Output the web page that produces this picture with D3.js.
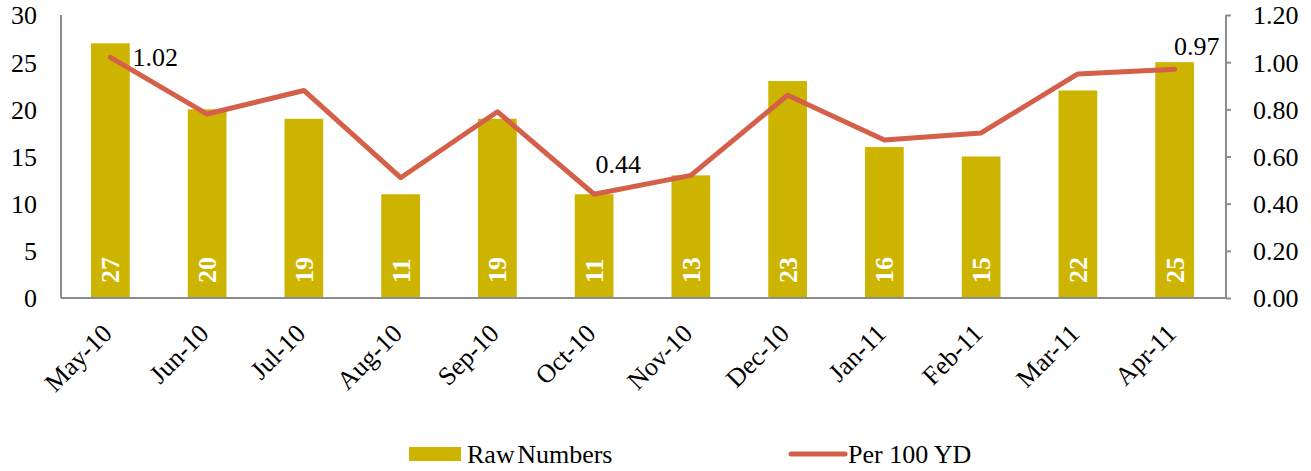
<!DOCTYPE html>
<html>
<head>
<meta charset="utf-8">
<script src="https://cdn.jsdelivr.net/npm/d3@7"></script>
<style>
  body { margin: 0; background: #fff; }
  text { font-family: "Liberation Serif", "Times New Roman", serif; }
</style>
</head>
<body>
<div class="container"></div>
<script>
const WIDTH = 1311;
const HEIGHT = 471;
const PLOT_LEFT = 61;
const PLOT_RIGHT = 1226;
const PLOT_TOP = 15;
const PLOT_BOTTOM = 298;
const FONT = 26;

const BAR_COLOR = "#CCB400";
const LINE_COLOR = "#D4604A";
const AXIS_COLOR = "#8c8c8c";

var months = ["May-10","Jun-10","Jul-10","Aug-10","Sep-10","Oct-10","Nov-10","Dec-10","Jan-11","Feb-11","Mar-11","Apr-11"];
var rawNumbers = [27, 20, 19, 11, 19, 11, 13, 23, 16, 15, 22, 25];
var per100YD = [1.02, 0.78, 0.88, 0.51, 0.79, 0.44, 0.52, 0.86, 0.67, 0.70, 0.95, 0.97];
var leftTicks = [0, 5, 10, 15, 20, 25, 30];
var rightTicks = [0, 0.2, 0.4, 0.6, 0.8, 1.0, 1.2];
var labelledPoints = [0, 5, 11];

var translate = function(x, y){
	return "translate(" + x + "," + y + ")";
};

var svg = d3.select('.container').append('svg')
	.attr('width', WIDTH)
	.attr('height', HEIGHT);

var xScale = d3.scaleBand()
	.domain(months)
	.range([62, 1223])
	.paddingInner(0.6)
	.paddingOuter(0.3);

var yLeft = d3.scaleLinear().domain([0, 30]).range([PLOT_BOTTOM, PLOT_TOP]);
var yRight = d3.scaleLinear().domain([0, 1.2]).range([PLOT_BOTTOM, PLOT_TOP]);

var centre = function(m){ return xScale(m) + xScale.bandwidth() / 2; };

// bars
svg.append('g').selectAll('rect')
	.data(rawNumbers)
	.enter().append('rect')
	.attr('x', function(d, i){ return xScale(months[i]); })
	.attr('y', function(d){ return yLeft(d); })
	.attr('width', xScale.bandwidth())
	.attr('height', function(d){ return yLeft(0) - yLeft(d); })
	.attr('fill', BAR_COLOR);

// bar value labels (rotated, white bold)
svg.append('g').selectAll('text')
	.data(rawNumbers)
	.enter().append('text')
	.attr('transform', function(d, i){ return translate(centre(months[i]) + 9, 283) + " rotate(-90)"; })
	.attr('text-anchor', 'start')
	.attr('fill', '#fff')
	.attr('font-weight', 'bold')
	.attr('font-size', FONT)
	.text(function(d){ return d; });

// left axis
var leftAxis = d3.axisLeft(yLeft).tickValues(leftTicks).tickSize(0).tickPadding(24);
var gl = svg.append('g').attr('transform', translate(PLOT_LEFT, 0)).call(leftAxis);
gl.select('.domain').remove();
gl.selectAll('text').attr('font-size', FONT).attr('fill', '#000').attr('dy', '0.34em');

// right axis
var rightAxis = d3.axisRight(yRight).tickValues(rightTicks).tickSize(5).tickPadding(22)
	.tickFormat(d3.format('.2f'));
var gr = svg.append('g').attr('transform', translate(PLOT_RIGHT, 0)).call(rightAxis);
gr.select('.domain').remove();
gr.selectAll('line').attr('stroke', AXIS_COLOR).attr('stroke-width', 2);
gr.selectAll('text').attr('font-size', FONT).attr('fill', '#000').attr('dy', '0.34em');

// axis lines
svg.append('line')
	.attr('x1', PLOT_LEFT).attr('x2', PLOT_LEFT)
	.attr('y1', PLOT_TOP).attr('y2', PLOT_BOTTOM)
	.attr('stroke', AXIS_COLOR).attr('stroke-width', 2);
svg.append('line')
	.attr('x1', PLOT_RIGHT).attr('x2', PLOT_RIGHT)
	.attr('y1', PLOT_TOP).attr('y2', PLOT_BOTTOM)
	.attr('stroke', AXIS_COLOR).attr('stroke-width', 2);
svg.append('line')
	.attr('x1', PLOT_LEFT).attr('x2', PLOT_RIGHT)
	.attr('y1', PLOT_BOTTOM).attr('y2', PLOT_BOTTOM)
	.attr('stroke', AXIS_COLOR).attr('stroke-width', 2);

// category labels
svg.append('g').selectAll('text')
	.data(months)
	.enter().append('text')
	.attr('transform', function(d){ return translate(centre(d) + 3, 335) + " rotate(-45)"; })
	.attr('text-anchor', 'end')
	.attr('font-size', FONT)
	.attr('fill', '#000')
	.text(function(d){ return d; });

// line
var line = d3.line()
	.x(function(d, i){ return centre(months[i]); })
	.y(function(d){ return yRight(d); });

svg.append('path')
	.datum(per100YD)
	.attr('d', line)
	.attr('fill', 'none')
	.attr('stroke', LINE_COLOR)
	.attr('stroke-width', 5)
	.attr('stroke-linecap', 'round')
	.attr('stroke-linejoin', 'round');

// line point labels
var pointLabelPos = {0: [22, 9, 'start'], 5: [24, -21, 'middle'], 11: [22, -14, 'middle']};
svg.append('g').selectAll('text')
	.data(labelledPoints)
	.enter().append('text')
	.attr('x', function(i){ return centre(months[i]) + pointLabelPos[i][0]; })
	.attr('y', function(i){ return yRight(per100YD[i]) + pointLabelPos[i][1]; })
	.attr('text-anchor', function(i){ return pointLabelPos[i][2]; })
	.attr('font-size', FONT)
	.attr('fill', '#000')
	.text(function(i){ return d3.format('.2f')(per100YD[i]); });

// legend
var legend = svg.append('g');
legend.append('rect')
	.attr('x', 409).attr('y', 447).attr('width', 52).attr('height', 14)
	.attr('fill', BAR_COLOR);
legend.append('text')
	.attr('x', 467).attr('y', 463)
	.attr('font-size', FONT).attr('word-spacing', -4)
	.text('Raw Numbers');
legend.append('line')
	.attr('x1', 791).attr('x2', 845).attr('y1', 454).attr('y2', 454)
	.attr('stroke', LINE_COLOR).attr('stroke-width', 5).attr('stroke-linecap', 'round');
legend.append('text')
	.attr('x', 848).attr('y', 463)
	.attr('font-size', FONT)
	.text('Per 100 YD');
</script>
</body>
</html>
